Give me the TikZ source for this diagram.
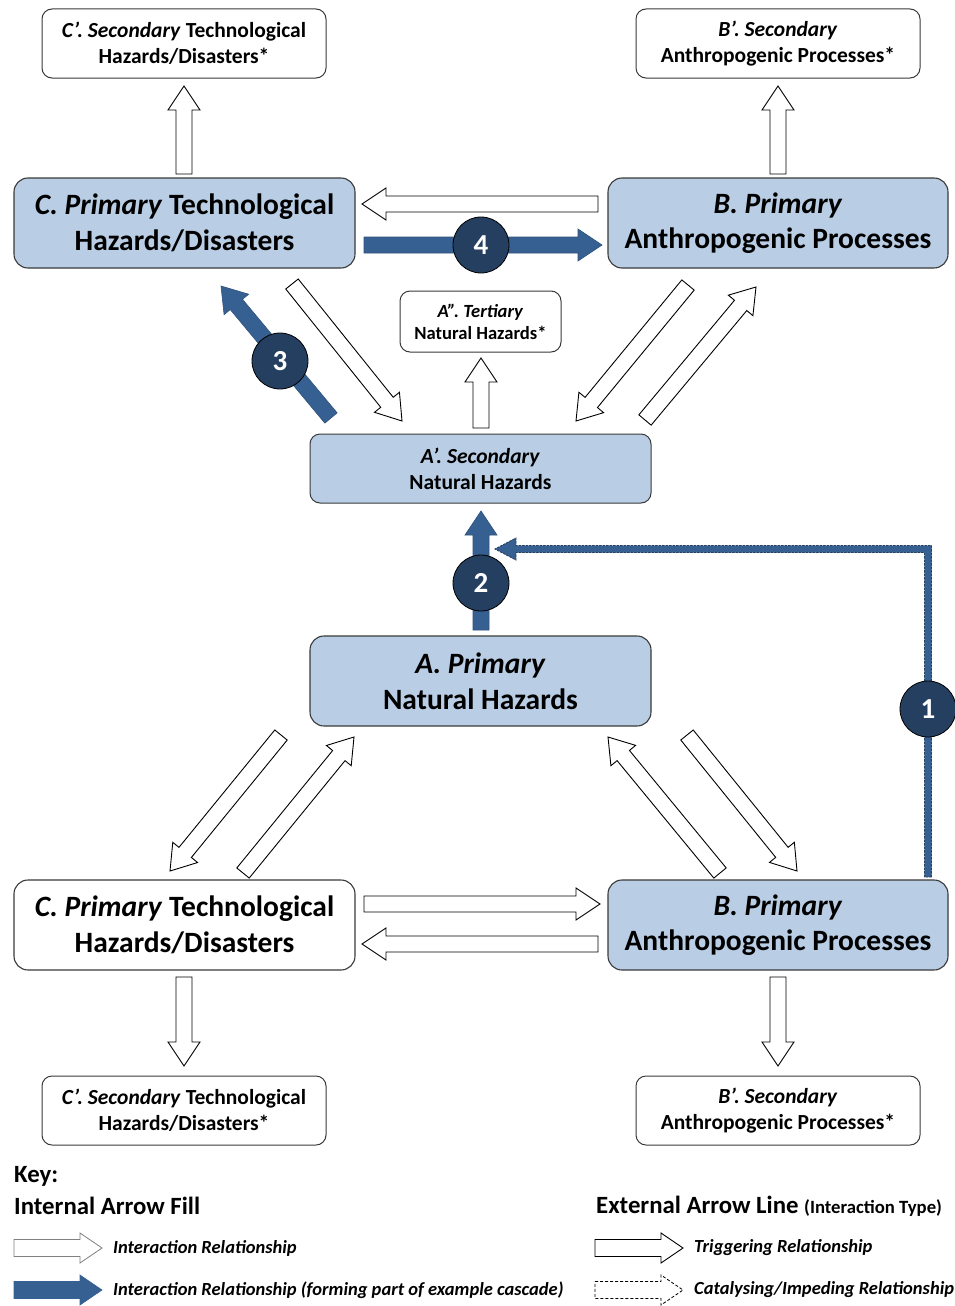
\documentclass[tikz,border=0pt]{standalone}
\usepackage{fontspec}
\setmainfont{Carlito}
\usetikzlibrary{calc}
\definecolor{boxblue}{HTML}{B9CDE5}
\definecolor{arrblue}{HTML}{376092}
\definecolor{navy}{HTML}{243F60}
\definecolor{edge}{HTML}{3A3A3A}
% block arrow: \barrow[style]{from}{to}
\newcommand\barrow[3][]{%
  \coordinate (bahead) at ($(#3)!24pt!(#2)$);
  \draw[#1] ($(#2)!8pt!90:(#3)$) -- ($(bahead)!8pt!90:(#3)$) -- ($(bahead)!16pt!90:(#3)$) -- (#3)
     -- ($(bahead)!16pt!-90:(#3)$) -- ($(bahead)!8pt!-90:(#3)$) -- ($(#2)!8pt!-90:(#3)$) -- cycle;}
\newcommand\karrow[3][]{%
  \coordinate (bahead) at ($(#3)!22pt!(#2)$);
  \draw[#1] ($(#2)!8.5pt!90:(#3)$) -- ($(bahead)!8.5pt!90:(#3)$) -- ($(bahead)!15pt!90:(#3)$) -- (#3)
     -- ($(bahead)!15pt!-90:(#3)$) -- ($(bahead)!8.5pt!-90:(#3)$) -- ($(#2)!8.5pt!-90:(#3)$) -- cycle;}
\begin{document}
\begin{tikzpicture}[x=1pt,y=-1pt,
  wa/.style={draw=black, fill=white, line width=0.9pt, line join=miter},
  ba/.style={draw=arrblue!85!black, fill=arrblue, line width=0.6pt, line join=miter},
  bigbox/.style={rounded corners=14pt, draw=edge, line width=1.1pt, minimum width=341pt, minimum height=90pt,
     align=center, inner sep=0pt, font=\fontsize{29.5}{35.5}\selectfont\bfseries},
  smallbox/.style={rounded corners=10pt, draw=edge, line width=1pt, fill=white, minimum width=284pt, minimum height=69pt,
     align=center, inner sep=0pt, font=\fontsize{21.5}{26}\selectfont\bfseries},
  num/.style={circle, fill=navy, draw=black, line width=0.8pt, minimum size=56pt, inner sep=0pt, text=white,
     font=\fontsize{29}{29}\selectfont\bfseries},
  keytext/.style={anchor=west, inner sep=0pt, font=\fontsize{18.5}{18.5}\selectfont\bfseries\itshape},
  keyhead/.style={anchor=west, inner sep=0pt, font=\fontsize{24.8}{24.8}\selectfont\bfseries}]
\fill[white] (0,0) rectangle (955,1306);
\useasboundingbox (0,0) rectangle (955,1306);

% boxes
\node[smallbox] (Cst) at (184,43.5) {\textit{C’. Secondary} Technological\\Hazards/Disasters*};
\node[smallbox] (Bst) at (778,43.5) {\textit{B’. Secondary}\\Anthropogenic Processes*};
\node[bigbox, fill=boxblue] (Ct) at (184.5,223) {\textit{C. Primary} Technological\\Hazards/Disasters};
\node[bigbox, fill=boxblue, minimum width=340pt] (Bt) at (778,223) {\textit{B. Primary}\\Anthropogenic Processes};
\node[rounded corners=10pt, draw=edge, line width=1pt, fill=white, minimum width=161pt, minimum height=61pt,
  align=center, inner sep=0pt, font=\fontsize{18.6}{22}\selectfont\bfseries] (App) at (480.5,321.5) {\textit{A”. Tertiary}\\Natural Hazards*};
\node[smallbox, fill=boxblue, minimum width=341pt] (Ap) at (480.5,468.5) {\textit{A’. Secondary}\\Natural Hazards};
\node[bigbox, fill=boxblue] (A) at (480.5,681) {\textit{A. Primary}\\Natural Hazards};
\node[bigbox, fill=white] (Cb) at (184.5,925) {\textit{C. Primary} Technological\\Hazards/Disasters};
\node[bigbox, fill=boxblue, minimum width=340pt] (Bb) at (778,925) {\textit{B. Primary}\\Anthropogenic Processes};
\node[smallbox] (Csb) at (184,1110.5) {\textit{C’. Secondary} Technological\\Hazards/Disasters*};
\node[smallbox] (Bsb) at (778,1110.5) {\textit{B’. Secondary}\\Anthropogenic Processes*};

% arrow end points
\coordinate (a1s) at (184,174);  \coordinate (a1e) at (184,86);
\coordinate (a2s) at (778,174);  \coordinate (a2e) at (778,86);
\coordinate (a3s) at (598,204);  \coordinate (a3e) at (362,204);
\coordinate (a4s) at (364,245);  \coordinate (a4e) at (602,245);
\coordinate (a5s) at (331,418);  \coordinate (a5e) at (221,286);
\coordinate (a6s) at (292,284);  \coordinate (a6e) at (402,421);
\coordinate (a7s) at (481,428);  \coordinate (a7e) at (481,358);
\coordinate (a8s) at (688,285);  \coordinate (a8e) at (576,421);
\coordinate (a9s) at (645,420);  \coordinate (a9e) at (756,287);
\coordinate (a10s) at (481,630); \coordinate (a10e) at (481,511);
\coordinate (a12s) at (281,735); \coordinate (a12e) at (170,871);
\coordinate (a13s) at (243,873); \coordinate (a13e) at (354,737);
\coordinate (a14s) at (720,873); \coordinate (a14e) at (608,737);
\coordinate (a15s) at (687,735); \coordinate (a15e) at (797,871);
\coordinate (a16s) at (364,904); \coordinate (a16e) at (600,904);
\coordinate (a17s) at (598,944); \coordinate (a17e) at (362,944);
\coordinate (a18s) at (184,977); \coordinate (a18e) at (184,1066);
\coordinate (a19s) at (778,977); \coordinate (a19e) at (778,1066);

\barrow[wa]{a1s}{a1e}
\barrow[wa]{a2s}{a2e}
\barrow[wa]{a3s}{a3e}
\barrow[ba]{a4s}{a4e}
\barrow[ba]{a5s}{a5e}
\barrow[wa]{a6s}{a6e}
\barrow[wa]{a7s}{a7e}
\barrow[wa]{a8s}{a8e}
\barrow[wa]{a9s}{a9e}
\barrow[ba]{a10s}{a10e}
\barrow[wa]{a12s}{a12e}
\barrow[wa]{a13s}{a13e}
\barrow[wa]{a14s}{a14e}
\barrow[wa]{a15s}{a15e}
\barrow[wa]{a16s}{a16e}
\barrow[wa]{a17s}{a17e}
\barrow[wa]{a18s}{a18e}
\barrow[wa]{a19s}{a19e}

% external catalysing arrow (1)
\coordinate (e1) at (928,877);
\coordinate (e2) at (928,549);
\coordinate (e3) at (495,549);
\draw[fill=arrblue, draw=navy, line width=0.9pt, dash pattern=on 2.5pt off 1pt, line join=miter]
  ($(e1)+(3.5,0)$) -- ($(e2)+(3.5,-3.5)$) -- ($(e3)+(21,-3.5)$) -- ($(e3)+(21,-11)$) -- (e3)
  -- ($(e3)+(21,11)$) -- ($(e3)+(21,3.5)$) -- ($(e2)+(-3.5,3.5)$) -- ($(e1)+(-3.5,0)$) -- cycle;

% numbered circles
\node[num] (n1) at (928,709) {1};
\node[num] (n2) at (481,583) {2};
\node[num] (n3) at (280,361) {3};
\node[num] (n4) at (481,245) {4};

% key
\node[anchor=west, inner sep=0pt, font=\fontsize{24.8}{24.8}\selectfont\bfseries] (key) at (14,1176) {Key:};
\node[keyhead] (iaf) at (14,1206) {Internal Arrow Fill};
\node[keyhead] (eal) at (596,1206) {External Arrow Line {\fontsize{18.7}{18.7}\selectfont(Interaction Type)}};
\coordinate (k1s) at (14,1248);  \coordinate (k1e) at (102,1248);
\coordinate (k2s) at (14,1290);  \coordinate (k2e) at (102,1290);
\coordinate (k3s) at (595,1248); \coordinate (k3e) at (683,1248);
\coordinate (k4s) at (595,1290); \coordinate (k4e) at (683,1290);
\karrow[draw=gray, fill=white, line width=0.8pt]{k1s}{k1e}
\karrow[draw=arrblue, fill=arrblue, line width=0.6pt]{k2s}{k2e}
\karrow[wa]{k3s}{k3e}
\karrow[draw=black, fill=white, line width=0.8pt, dash pattern=on 3pt off 2pt]{k4s}{k4e}
\node[keytext] (l1) at (113,1248) {Interaction Relationship};
\node[keytext] (l2) at (113,1290) {Interaction Relationship (forming part of example cascade)};
\node[keytext] (l3) at (694,1248) {Triggering Relationship};
\node[keytext] (l4) at (694,1290) {Catalysing/Impeding Relationship};
\end{tikzpicture}
\end{document}
